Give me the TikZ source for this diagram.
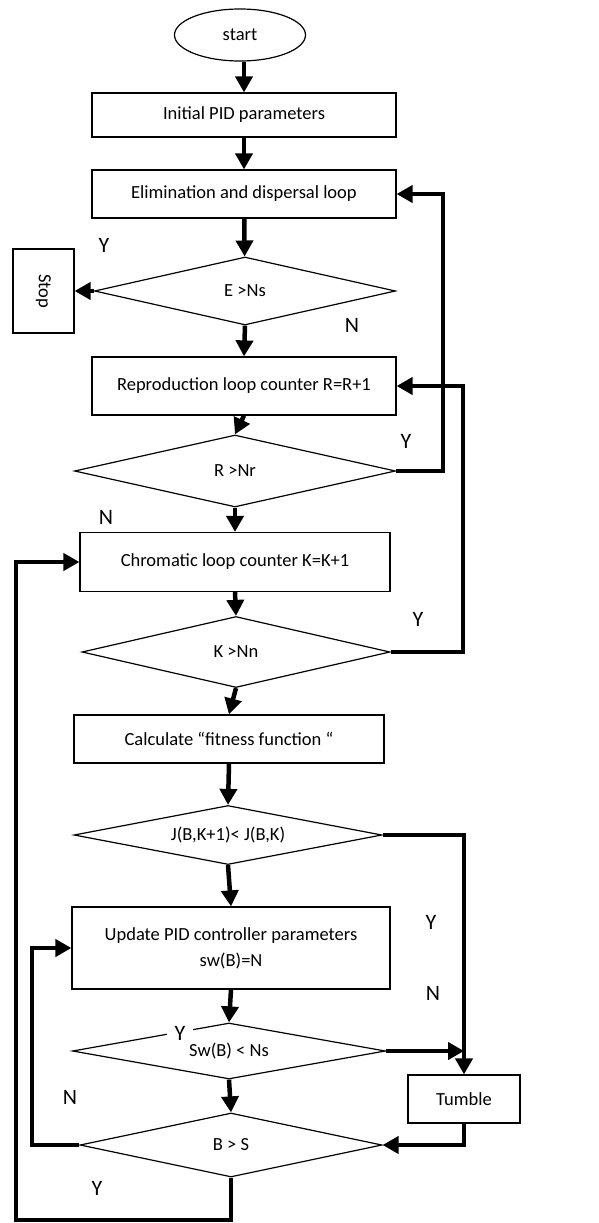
\documentclass[tikz,border=0pt]{standalone}
\usepackage{fontspec}
\setmainfont{Carlito}
\usetikzlibrary{shapes.geometric,arrows.meta}
\begin{document}
\begin{tikzpicture}[x=1pt,y=-1pt,
  box/.style={draw,line width=1.2pt,rectangle,inner sep=0pt,font=\fontsize{18.5}{26}\selectfont,align=center},
  dia/.style={draw,line width=1.2pt,diamond,inner sep=0pt,font=\fontsize{18.5}{22}\selectfont},
  lbl/.style={font=\fontsize{22}{26}\selectfont,inner sep=1pt},
  arr/.style={line width=4.5pt,-{Triangle[length=16pt,width=17pt]}},
  ln/.style={line width=4.5pt}]
\useasboundingbox (0,0) rectangle (598,1223);
\node[draw,line width=1.2pt,ellipse,minimum width=131pt,minimum height=52pt,inner sep=0pt,font=\fontsize{18.5}{22}\selectfont] (start) at (240,35) {start};
\node[box,minimum width=304pt,minimum height=44pt] (init) at (244,115) {Initial PID parameters};
\node[box,minimum width=304pt,minimum height=48pt] (elim) at (244,194) {Elimination and dispersal loop};
\node[dia,shape aspect=4.4,minimum width=301pt,minimum height=68pt] (dE) at (245,291) {E >Ns};
\node[box,minimum width=61pt,minimum height=84pt] (stop) at (43.5,291) {\rotatebox{-90}{Stop}};
\node[box,minimum width=304pt,minimum height=58pt] (repro) at (244,386) {Reproduction loop counter R=R+1};
\node[dia,shape aspect=4.46,minimum width=321pt,minimum height=72pt] (dR) at (235,471) {R >Nr};
\node[box,minimum width=310pt,minimum height=59pt] (chrom) at (235,562) {Chromatic loop counter K=K+1};
\node[dia,shape aspect=4.3,minimum width=308pt,minimum height=71pt] (dK) at (236,652) {K >Nn};
\node[box,minimum width=310pt,minimum height=48pt] (calc) at (229,739) {Calculate “fitness function “};
\node[dia,shape aspect=5.2,minimum width=308pt,minimum height=59pt] (dJ) at (228,835) {J(B,K+1)< J(B,K)};
\node[box,minimum width=318pt,minimum height=82pt] (upd) at (231,948) {Update PID controller parameters\\sw(B)=N};
\node[dia,shape aspect=5.6,minimum width=313pt,minimum height=56pt] (dS) at (229,1051) {Sw(B) < Ns};
\node[box,minimum width=112pt,minimum height=48pt] (tumble) at (464,1099) {Tumble};
\node[dia,shape aspect=4.7,minimum width=302pt,minimum height=64pt] (dB) at (231,1145) {B > S};
% coordinates for loop lines
\coordinate (cA) at (443,0);
\coordinate (cB) at (463,0);
\coordinate (cC) at (32,0);
\coordinate (cD) at (16,1220);
% main flow
\draw[arr] (start.south -| init.north) -- (init.north);
\draw[arr] (init) -- (elim);
\draw[arr] (elim) -- (dE);
\draw[arr] (dE.west) -- (stop.east);
\draw[arr] (dE.south) -- (repro.north);
\draw[arr] (repro.south) -- (dR.north);
\draw[arr] (dR.south) -- (chrom.north);
\draw[arr] (chrom.south) -- (dK.north);
\draw[arr] (dK.south) -- (calc.north);
\draw[arr] (calc.south) -- (dJ.north);
\draw[arr] (dJ.south) -- (upd.north);
\draw[arr] (upd.south) -- (dS.north);
\draw[arr] (dS.south) -- (dB.north);
% loops
\draw[arr] (dR.east) -- (dR.east -| cA) -- (elim.east -| cA) -- (elim.east);
\draw[arr] (dK.east) -- (dK.east -| cB) -- (repro.east -| cB) -- (repro.east);
\draw[arr] (dJ.east) -- (dJ.east -| tumble.north) -- (tumble.north);
\draw[arr] (dS.east) -- (dS.east -| tumble.north);
\draw[arr] (tumble.south) -- (tumble.south |- dB.east) -- (dB.east);
\draw[arr] (dB.west) -- (dB.west -| cC) -- (upd.west -| cC) -- (upd.west);
\draw[arr] (dB.south) -- (dB.south |- cD) -- (cD) -- (chrom.west -| cD) -- (chrom.west);
% labels
\node[lbl] (y1) at (104,245) {Y};
\node[lbl] (n1) at (352,325) {N};
\node[lbl] (y2) at (406,441) {Y};
\node[lbl] (n2) at (106,517) {N};
\node[lbl] (y3) at (418,619) {Y};
\node[lbl] (y4) at (431,922) {Y};
\node[lbl] (n3) at (433,993) {N};
\node[lbl,fill=white,inner xsep=8pt,inner ysep=0pt] (y5) at (180,1033) {Y};
\node[lbl] (n4) at (70,1097) {N};
\node[lbl] (y6) at (97,1188) {Y};
\end{tikzpicture}
\end{document}
